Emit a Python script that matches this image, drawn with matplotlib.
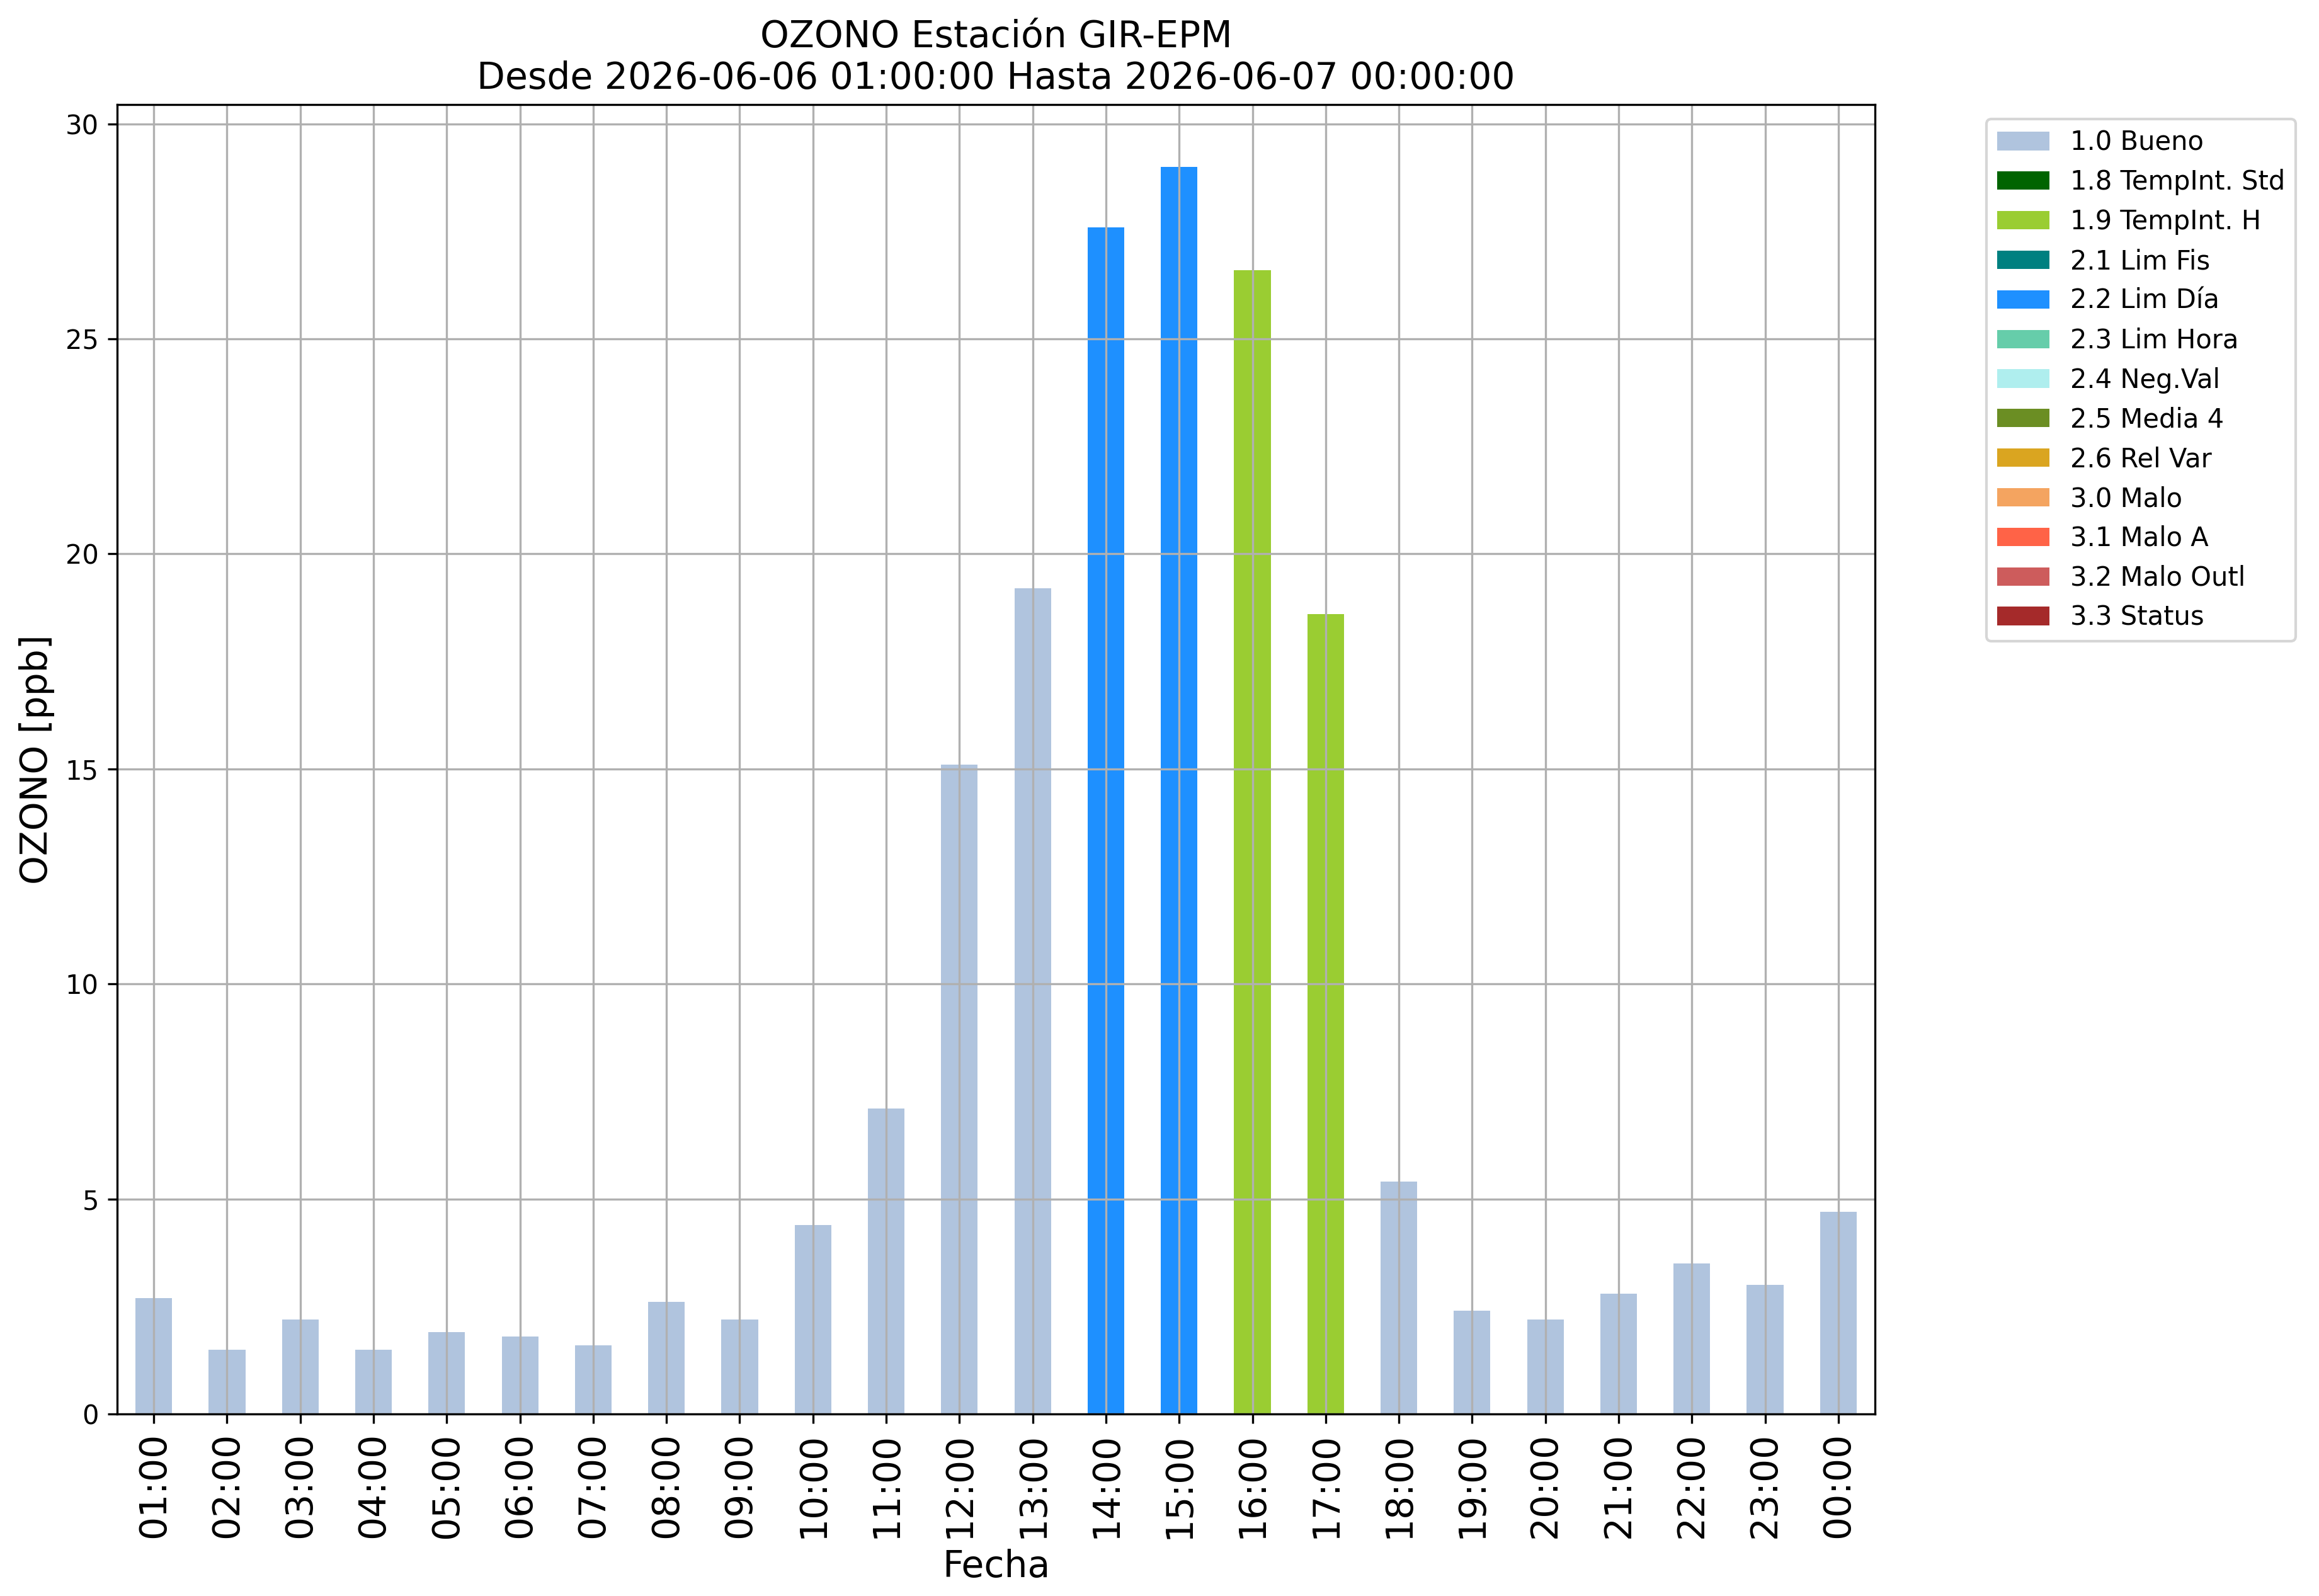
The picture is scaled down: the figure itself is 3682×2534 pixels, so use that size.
import matplotlib
matplotlib.use('Agg')
import matplotlib.pyplot as plt
from matplotlib.patches import Patch

# Datos
horas = ['01:00', '02:00', '03:00', '04:00', '05:00', '06:00', '07:00', '08:00',
         '09:00', '10:00', '11:00', '12:00', '13:00', '14:00', '15:00', '16:00',
         '17:00', '18:00', '19:00', '20:00', '21:00', '22:00', '23:00', '00:00']
ozono = [2.7, 1.5, 2.2, 1.5, 1.9, 1.8, 1.6, 2.6, 2.2, 4.4, 7.1, 15.1,
         19.2, 27.6, 29.0, 26.6, 18.6, 5.4, 2.4, 2.2, 2.8, 3.5, 3.0, 4.7]
banderas = ['1.0 Bueno'] * 13 + ['2.2 Lim Día'] * 2 + ['1.9 TempInt. H'] * 2 + ['1.0 Bueno'] * 7

# Categorías de calidad y sus colores
categorias = ['1.0 Bueno', '1.8 TempInt. Std', '1.9 TempInt. H', '2.1 Lim Fis',
              '2.2 Lim Día', '2.3 Lim Hora', '2.4 Neg.Val', '2.5 Media 4',
              '2.6 Rel Var', '3.0 Malo', '3.1 Malo A', '3.2 Malo Outl', '3.3 Status']
colores_cat = ['lightsteelblue', 'darkgreen', 'yellowgreen', 'teal', 'dodgerblue',
               'mediumaquamarine', 'paleturquoise', 'olivedrab', 'goldenrod',
               'sandybrown', 'tomato', 'indianred', 'brown']

color_de = dict(zip(categorias, colores_cat))

fig = plt.figure(figsize=(3682 / 300, 2534 / 300), dpi=300)
ax = fig.add_axes([186 / 3682, 1 - 2245 / 2534, (2977 - 186) / 3682, (2245 - 166) / 2534])

x = list(range(len(horas)))
ax.bar(x, ozono, width=0.5, color=[color_de[b] for b in banderas])

ax.set_xlim(-0.5, len(horas) - 0.5)
ax.set_xticks(x)
ax.set_xticklabels(horas, rotation=90, fontsize=14)
ax.tick_params(axis='y', labelsize=10)
ax.grid(True)

ax.set_xlabel('Fecha', fontsize=14)
ax.set_ylabel('OZONO [ppb]', fontsize=14)
ax.set_title('OZONO Estación GIR-EPM\nDesde 2026-06-06 01:00:00 Hasta 2026-06-07 00:00:00', fontsize=14)

handles = [Patch(facecolor=c, label=l) for l, c in zip(categorias, colores_cat)]
ax.legend(handles=handles, loc='upper left', bbox_to_anchor=(1.0634, 0.989),
          borderaxespad=0, fontsize=10)

fig.savefig('out.png', dpi=300)
